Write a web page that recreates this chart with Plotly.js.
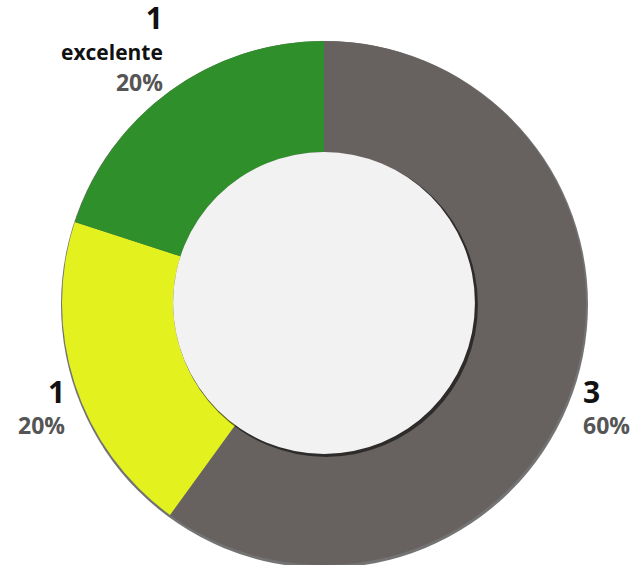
<!DOCTYPE html>
<html><head><meta charset="utf-8">
<script src="https://cdn.plot.ly/plotly-3.0.1.min.js"></script>
<style>html,body{margin:0;padding:0;background:#fff;}</style>
</head><body>
<div id="chart" style="width:635px;height:565px;"></div>
<script>
// Data
const sliceIds = ['s1', 's2', 's3'];
const sliceNames = ['', '', 'excelente'];
const sliceValues = [3, 1, 1];
const sliceColors = ['#67625f', '#e3f21f', '#2f8f2a'];

const W = 635, H = 565;
const margin = {l: 62, r: 49, t: 41, b: 0};
const plotW = W - margin.l - margin.r, plotH = H - margin.t - margin.b;
const R = Math.min(plotW, plotH) / 2;
const holeFrac = 0.576;

const total = sliceValues.reduce((a, b) => a + b, 0);
const annotations = [];
let cum = 0;
sliceValues.forEach((v, i) => {
  const mid = (cum + v / 2) / total * 2 * Math.PI; // clockwise from 12 o'clock
  cum += v;
  const rr = R + 8;
  const dx = Math.sin(mid) * rr, dy = Math.cos(mid) * rr; // dy upward
  const pct = Math.round(v / total * 100) + '%';
  let txt = '<span style="font-size:30px;color:#111"><b>' + v + '</b></span>';
  if (sliceNames[i]) txt += '<br><span style="font-size:21px;color:#111"><b>' + sliceNames[i] + '</b></span>';
  txt += '<br><span style="font-size:23px;color:#555"><b>' + pct + '</b></span>';
  annotations.push({
    xref: 'paper', yref: 'paper',
    x: 0.5 + dx / plotW, y: 0.5 + dy / plotH,
    xanchor: dx >= 0 ? 'left' : 'right',
    yanchor: dy >= 0 ? 'bottom' : 'top',
    yshift: dy >= 0 ? -15 : 17,
    align: dx >= 0 ? 'left' : 'right',
    showarrow: false,
    text: txt,
    font: {family: 'Open Sans, sans-serif', size: 24, color: '#555'}
  });
});

const holeR = R * holeFrac;
const shapes = [
  {type: 'circle', layer: 'below', xref: 'paper', yref: 'paper',
   xsizemode: 'pixel', ysizemode: 'pixel', xanchor: 0.5, yanchor: 0.5,
   x0: -R - 1, x1: R + 2, y0: -R - 3, y1: R,
   fillcolor: 'rgba(0,0,0,0.55)', line: {width: 0}},
  {type: 'circle', layer: 'above', xref: 'paper', yref: 'paper',
   xsizemode: 'pixel', ysizemode: 'pixel', xanchor: 0.5, yanchor: 0.5,
   x0: -holeR + 1, x1: holeR + 3, y0: -holeR - 3, y1: holeR - 1,
   fillcolor: 'rgba(0,0,0,0.55)', line: {width: 0}},
  {type: 'circle', layer: 'above', xref: 'paper', yref: 'paper',
   xsizemode: 'pixel', ysizemode: 'pixel', xanchor: 0.5, yanchor: 0.5,
   x0: -holeR, x1: holeR, y0: -holeR, y1: holeR,
   fillcolor: '#f2f2f2', line: {width: 0}}
];

const data = [{
  type: 'pie',
  labels: sliceIds,
  values: sliceValues,
  marker: {colors: sliceColors, line: {width: 0}},
  hole: holeFrac,
  sort: false,
  direction: 'clockwise',
  rotation: 0,
  textinfo: 'none',
  hoverinfo: 'skip',
  showlegend: false
}];

const layout = {
  width: W, height: H,
  margin: margin,
  paper_bgcolor: '#fff',
  plot_bgcolor: '#fff',
  showlegend: false,
  annotations: annotations,
  shapes: shapes
};

Plotly.newPlot('chart', data, layout, {displayModeBar: false, staticPlot: true});
</script>
</body></html>
